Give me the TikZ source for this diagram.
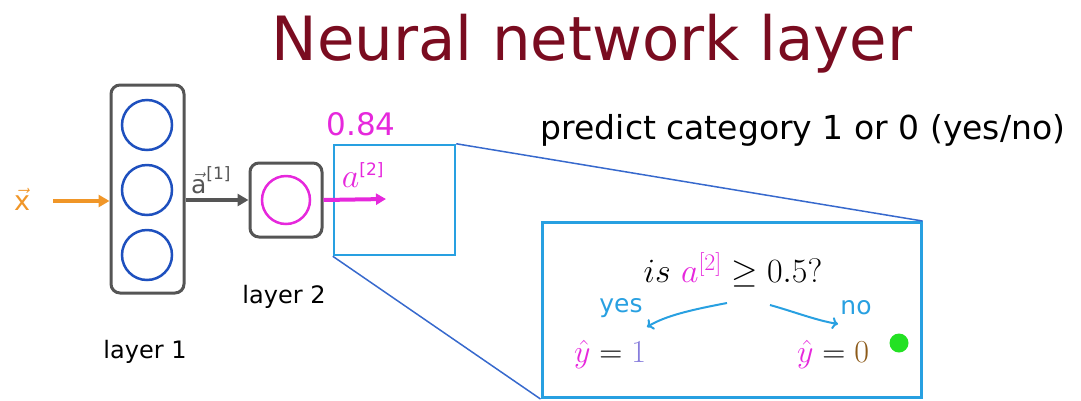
\RequirePackage{fix-cm}
\documentclass[tikz,border=0pt]{standalone}
\usepackage[no-math]{fontspec}
\setsansfont{DejaVu Sans}
\usetikzlibrary{arrows.meta}

\definecolor{titlered}{RGB}{122,12,32}
\definecolor{boxgray}{RGB}{85,85,85}
\definecolor{unitblue}{RGB}{30,80,190}
\definecolor{actmag}{RGB}{230,40,220}
\definecolor{inorange}{RGB}{240,150,40}
\definecolor{zoomcyan}{RGB}{40,160,225}
\definecolor{zoomline}{RGB}{55,105,205}
\definecolor{onepurple}{RGB}{135,125,220}
\definecolor{zerobrown}{RGB}{140,90,25}
\definecolor{dotgreen}{RGB}{35,225,35}

\newcommand{\supsf}[1]{\mbox{\sffamily\fontsize{17}{18}\selectfont #1}}

\tikzset{
  layerbox/.style={draw=boxgray, line width=3pt, rounded corners=9pt},
  unit/.style={circle, draw=unitblue, line width=2.5pt, minimum size=50pt, inner sep=0pt},
  caption/.style={font=\sffamily\fontsize{24}{28}\selectfont, text=black},
  hand/.style={font=\sffamily\fontsize{25}{28}\selectfont, text=zoomcyan, inner sep=0pt},
  fatarrow/.style={line width=4pt, -{Triangle[length=11pt,width=12pt]}},
  bendarrow/.style={draw=zoomcyan, line width=2pt, -{To[length=6pt,width=12pt]}},
}

\begin{document}
\begin{tikzpicture}[x=1pt, y=-1pt]
\useasboundingbox (0,0) rectangle (1081,400);

% === TITLE ===
\node[font=\sffamily\fontsize{61}{66}\selectfont, text=titlered] (title) at (592,44) {Neural network layer};
\node[font=\sffamily\fontsize{33}{38}\selectfont] (task) at (803,130) {predict category 1 or 0 (yes/no)};

% ============================================================
% LAYER 1: three units
% ============================================================
\node[layerbox, minimum width=73pt, minimum height=208pt] (l1box) at (147.5,189) {};
\node[unit] (u1) at (147,125) {};
\node[unit] (u2) at (147,190) {};
\node[unit] (u3) at (147,255) {};
\node[caption] (l1name) at (145,352) {layer 1};

% input
\node[font=\sffamily\fontsize{27}{28}\selectfont, text=inorange] (xin) at (22,199) {$\vec{\mbox{x}}$};
\coordinate (xstart) at (53,201);
\draw[fatarrow, draw=inorange, fill=inorange] (xstart) -- (l1box.west |- xstart);

% ============================================================
% LAYER 2: one unit
% ============================================================
\node[layerbox, minimum width=72pt, minimum height=74pt] (l2box) at (286,200) {};
\node[unit, draw=actmag, minimum size=48pt] (u4) at (286,200) {};
\node[caption] (l2name) at (284,297) {layer 2};

\draw[fatarrow, draw=boxgray, fill=boxgray] (l1box.east |- l2box) -- (l2box.west);
\node[font=\sffamily\fontsize{25}{26}\selectfont, text=boxgray] (a1) at (211,180) {$\vec{\mbox{a}}^{\supsf{[1]}}$};

% ============================================================
% ZOOM: output of layer 2
% ============================================================
\node[draw=zoomcyan, line width=2.5pt, minimum width=121pt, minimum height=110pt] (zsrc) at (394.5,200) {};
\node[draw=zoomcyan, line width=3pt, minimum width=379pt, minimum height=175pt] (zbox) at (731.5,310) {};
\draw[zoomline, line width=1.5pt] (zsrc.north east) -- (zbox.north east);
\draw[zoomline, line width=1.5pt] (zsrc.south west) -- (zbox.south west);

\coordinate (aend) at (386,199);
\draw[line width=4pt, draw=actmag, fill=actmag, -{Triangle[length=10pt,width=11pt]}] (l2box.east) -- (aend);
\node[font=\fontsize{34}{36}\selectfont, text=actmag] (a2) at (363,175) {$a^{\supsf{[2]}}$};
\node[font=\sffamily\fontsize{31}{32}\selectfont, text=actmag] (val) at (361,124) {0.84};

% decision inside zoom
\node[font=\fontsize{34}{36}\selectfont] (test) at (733,270) {$is\ {\color{actmag}a^{[2]}} \geq 0.5?$};
\node[font=\fontsize{32}{34}\selectfont] (yone) at (610,354) {${\color{actmag}\hat{y}} = {\color{onepurple}1}$};
\node[font=\fontsize{32}{34}\selectfont] (yzero) at (833,354) {${\color{actmag}\hat{y}} = {\color{zerobrown}0}$};
\node[hand] (yes) at (621,308) {yes};
\node[hand] (no) at (856,308) {no};
\fill[dotgreen] (899,343) circle (9.5pt);

\coordinate (yesfrom) at (727,303);
\coordinate (yesto) at (647,327);
\coordinate (nofrom) at (770,305);
\coordinate (noto) at (838,324);
\draw[bendarrow] (yesfrom) .. controls (690,310) and (665,316) .. (yesto);
\draw[bendarrow] (nofrom) .. controls (795,312) and (815,320) .. (noto);

\end{tikzpicture}
\end{document}
